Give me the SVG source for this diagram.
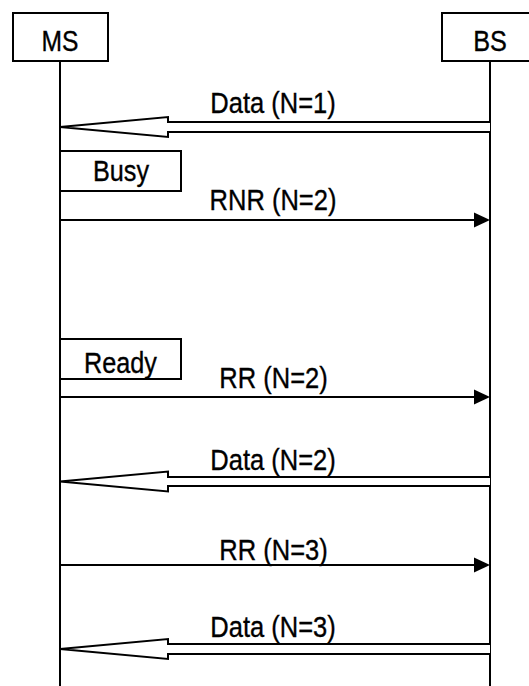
<svg xmlns="http://www.w3.org/2000/svg" width="529" height="686" viewBox="0 0 529 686">
<style>
.box{fill:#fff;stroke:#000;stroke-width:2}
.life{stroke:#000;stroke-width:2;fill:none}
.msg{stroke:#000;stroke-width:2.2;fill:none}
.hollow{stroke:#000;stroke-width:2;fill:#fff;stroke-linejoin:miter}
.head{fill:#000;stroke:none}
text{font-family:"Liberation Sans",Arial,sans-serif;font-size:29px;fill:#000;stroke:#000;stroke-width:0.35;text-anchor:middle}
</style>
<rect width="529" height="686" fill="#fff"/>
<g id="lifelines">
<line class="life" x1="60" y1="61" x2="60" y2="686"/>
<line class="life" x1="490" y1="61" x2="490" y2="686"/>
</g>
<g id="MS">
<rect class="box" x="13" y="13" width="95" height="48"/>
<text transform="translate(60,51) scale(0.85,1)">MS</text>
</g>
<g id="BS">
<rect class="box" x="442" y="13" width="100" height="48"/>
<text transform="translate(490,51) scale(0.87,1)">BS</text>
</g>
<g id="Busy">
<rect class="box" x="60" y="151" width="121" height="40"/>
<text transform="translate(121,180.5) scale(0.87,1)">Busy</text>
</g>
<g id="Ready">
<rect class="box" x="60" y="339" width="121" height="40"/>
<text transform="translate(120.5,372.5) scale(0.87,1)">Ready</text>
</g>
<g id="connectors">
<polyline class="hollow" points="490,122 168,122 168,117 60,127 168,137 168,132 490,132"/>
<line class="msg" x1="60" y1="220" x2="476" y2="220"/>
<polygon class="head" points="474,212.5 490,220 474,227.5"/>
<line class="msg" x1="60" y1="397" x2="476" y2="397"/>
<polygon class="head" points="474,389.5 490,397 474,404.5"/>
<polyline class="hollow" points="490,477 168,477 168,471.5 60,481.5 168,491.5 168,486 490,486"/>
<line class="msg" x1="60" y1="565" x2="476" y2="565"/>
<polygon class="head" points="474,557.5 490,565 474,572.5"/>
<polyline class="hollow" points="490,644 168,644 168,639 60,649 168,659 168,654 490,654"/>
</g>
<g id="labels">
<text transform="translate(273,112.5) scale(0.88,1)">Data (N=1)</text>
<text transform="translate(273,209.5) scale(0.88,1)">RNR (N=2)</text>
<text transform="translate(273.5,387.5) scale(0.88,1)">RR (N=2)</text>
<text transform="translate(273,469.5) scale(0.88,1)">Data (N=2)</text>
<text transform="translate(273.5,559.5) scale(0.88,1)">RR (N=3)</text>
<text transform="translate(273,636.5) scale(0.88,1)">Data (N=3)</text>
</g>
</svg>
